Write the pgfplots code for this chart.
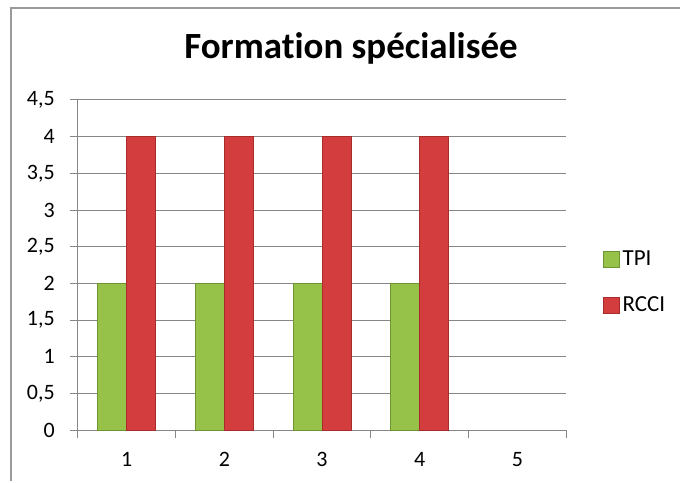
\documentclass[border=0pt]{standalone}
\usepackage{fontspec}
\setmainfont{Carlito}[Ligatures={NoCommon,NoRare,NoContextual}]
\usepackage{pgfplots}
\pgfplotsset{compat=1.18}
\definecolor{gridc}{HTML}{868686}
\definecolor{borderc}{HTML}{9A9A9A}
\definecolor{gD}{HTML}{6E9430}
\definecolor{gL}{HTML}{96C24A}
\definecolor{rD}{HTML}{A82C2C}
\definecolor{rL}{HTML}{D43D3D}
\begin{document}
\begin{tikzpicture}[x=1pt,y=1pt]
\path (0,0) rectangle (681,482);
\draw[line width=2pt, color=borderc] (11,0) -- (11,474) -- (681,474);
\node[anchor=base, font=\fontsize{37}{44}\selectfont\bfseries] at (351.5,423) {Formation spécialisée};
\begin{axis}[at={(78pt,51pt)}, anchor=south west, scale only axis,
  width=489pt, height=331pt,
  ymin=0, ymax=4.5, xmin=0.5, xmax=5.5,
  ybar=0pt, bar width=29pt,
  axis lines*=left,
  axis line style={gridc, line width=1pt},
  tick align=outside, major tick length=8pt,
  tick style={gridc, line width=1pt},
  xtick={0.5,1.5,2.5,3.5,4.5,5.5},
  xticklabels={1,2,3,4,5,{}},
  tick label style={font=\fontsize{22}{26}\selectfont},
  xticklabel style={anchor=north, inner sep=0pt, xshift=48.9pt, yshift=-14pt},
  ytick={0,0.5,1,1.5,2,2.5,3,3.5,4,4.5},
  yticklabel style={anchor=east, inner sep=0pt, xshift=-15pt},
  ymajorgrids, grid style={gridc, line width=1pt},
  /pgf/number format/use comma,
  /pgf/number format/assume math mode=true,
  legend style={at={(1.0757,0.4486)}, anchor=west, draw=none, fill=none,
    font=\fontsize{23}{27}\selectfont, row sep=25pt, inner sep=0pt,
    nodes={inner sep=2.5pt}},
  legend cell align=left,
  legend image code/.code={\fill[#1] (0pt,-8pt) rectangle (16pt,8pt);},
]
\addplot[draw=gD, line width=0.8pt, fill=gL] coordinates {(1,2) (2,2) (3,2) (4,2)};
\addplot[draw=rD, line width=0.8pt, fill=rL] coordinates {(1,4) (2,4) (3,4) (4,4)};
\legend{TPI,RCCI}
\end{axis}
\end{tikzpicture}
\end{document}
